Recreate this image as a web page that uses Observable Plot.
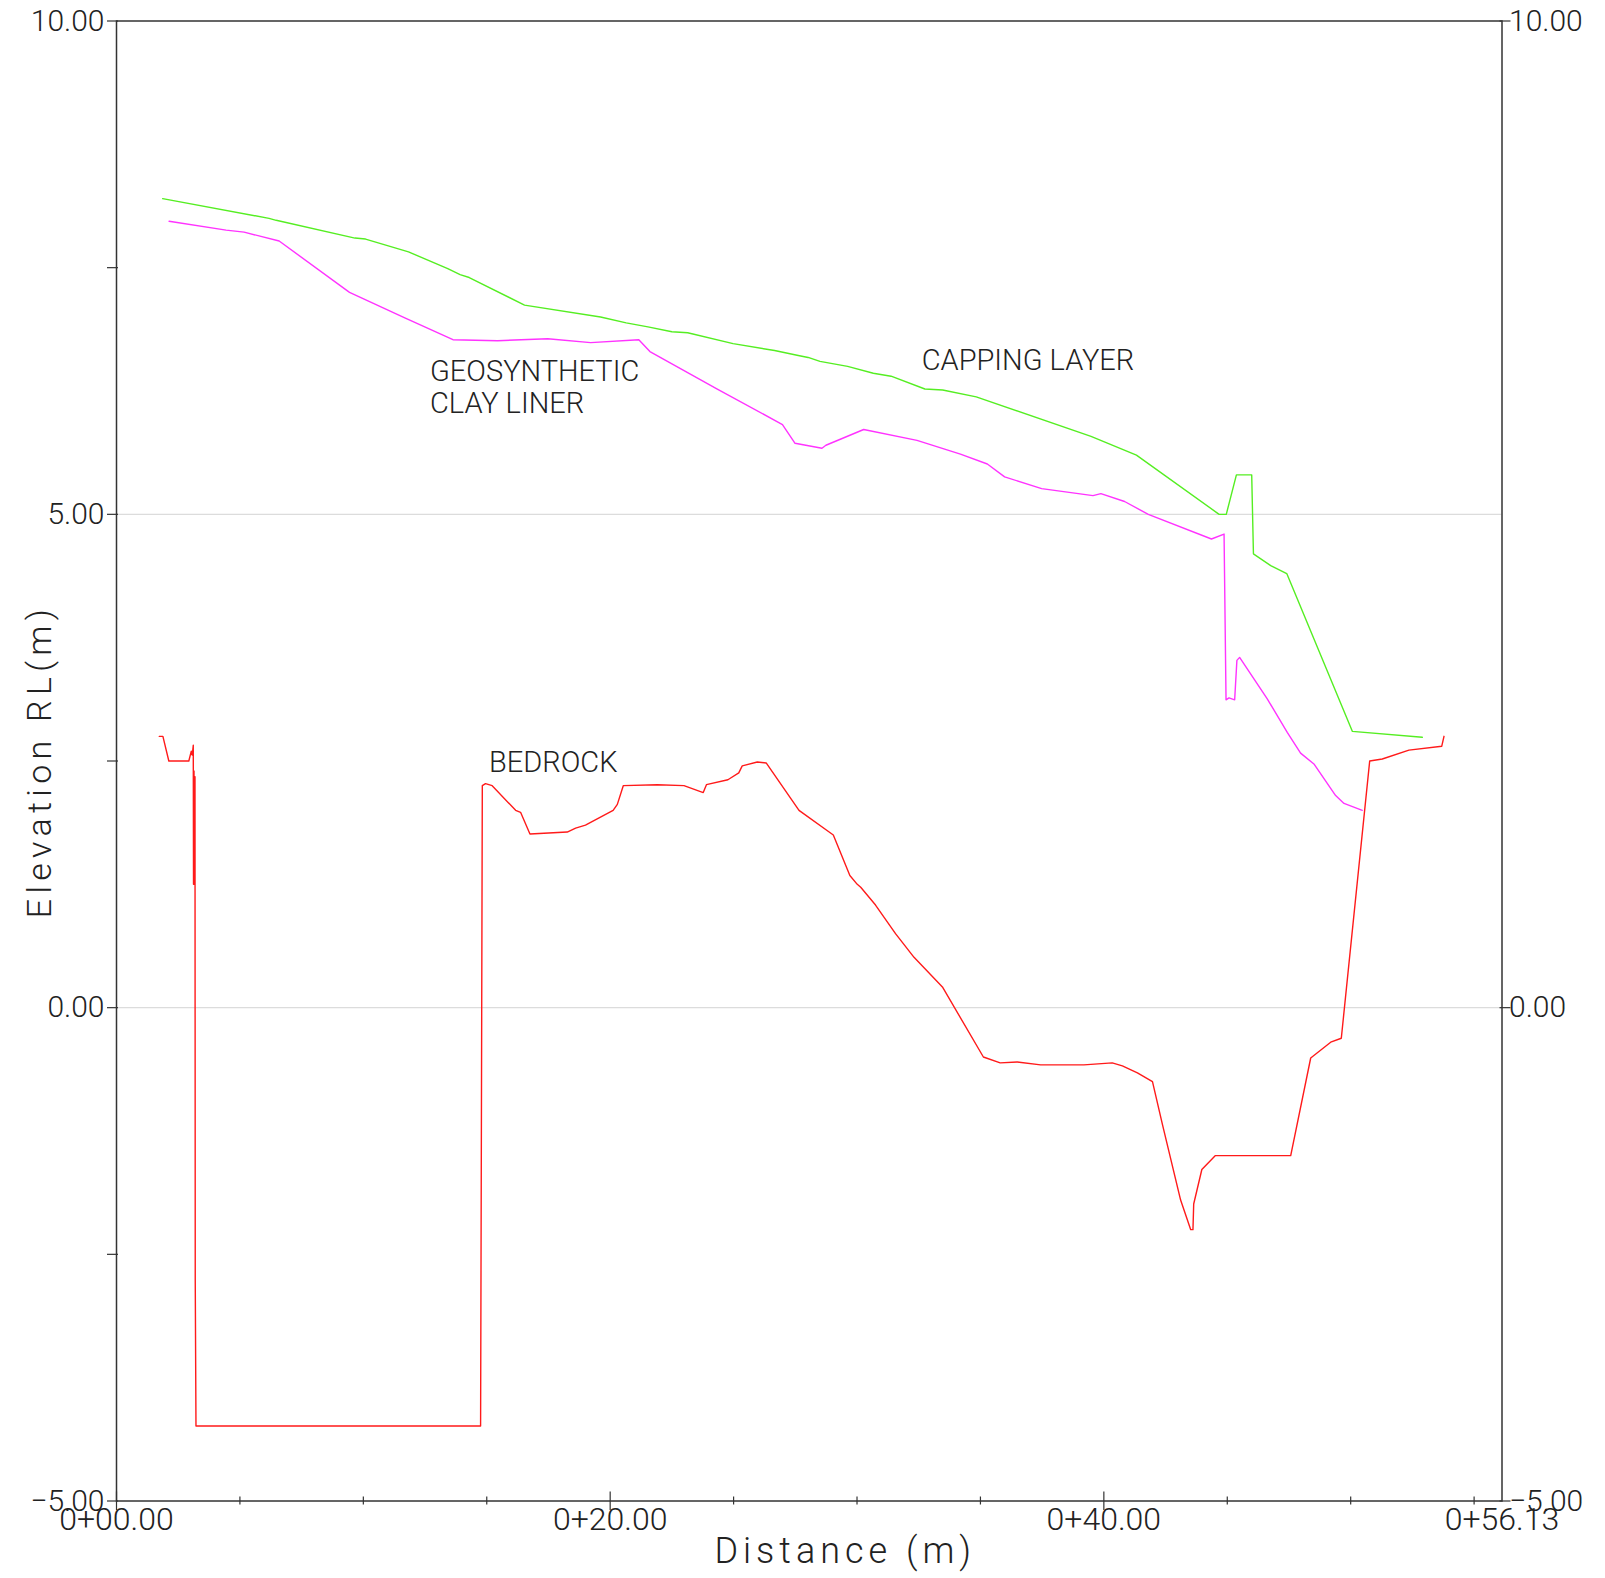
<!DOCTYPE html>
<html>
<head>
<meta charset="utf-8">
<script src="https://cdn.jsdelivr.net/npm/d3@7"></script>
<script src="https://cdn.jsdelivr.net/npm/@observablehq/plot@0.6"></script>
<style>
  html, body { margin: 0; padding: 0; background: #fff; }
  #chart svg { display: block; }
  .ytitle text { letter-spacing: 5.3px; }
  .xtitle text { letter-spacing: 5px; }
</style>
</head>
<body>
<div id="chart"></div>
<script>
// ---- Data ----
const cappingX = [1.87, 6.18, 6.47, 9.66, 10.09, 11.83, 13.42, 13.92, 14.29, 16.53, 19.61, 20.65, 21.53, 22.50, 23.14, 24.98, 26.66, 27.62, 28.02, 28.50, 29.62, 30.66, 31.38, 32.75, 33.47, 34.83, 39.48, 41.32, 44.67, 44.96, 45.37, 45.99, 46.06, 46.76, 47.41, 50.07, 52.90];
const cappingY = [8.20, 8.00, 7.98, 7.80, 7.79, 7.66, 7.49, 7.43, 7.40, 7.12, 7.00, 6.94, 6.90, 6.85, 6.84, 6.73, 6.66, 6.61, 6.59, 6.55, 6.50, 6.43, 6.40, 6.27, 6.26, 6.19, 5.79, 5.60, 5.00, 5.00, 5.40, 5.40, 4.60, 4.48, 4.40, 2.80, 2.74];

const gclX = [2.13, 4.44, 5.17, 6.59, 9.44, 11.68, 13.63, 15.44, 17.47, 19.21, 21.16, 21.61, 24.34, 26.98, 27.49, 28.58, 28.74, 30.27, 32.43, 34.19, 35.28, 35.98, 37.48, 39.56, 39.88, 40.84, 41.80, 44.36, 44.87, 44.95, 45.07, 45.30, 45.39, 45.50, 46.62, 47.43, 47.97, 48.51, 49.39, 49.73, 50.47];
const gclY = [7.97, 7.88, 7.86, 7.77, 7.25, 6.99, 6.77, 6.76, 6.78, 6.74, 6.77, 6.65, 6.27, 5.91, 5.72, 5.67, 5.70, 5.86, 5.75, 5.61, 5.51, 5.38, 5.26, 5.19, 5.21, 5.13, 5.00, 4.75, 4.80, 3.12, 3.14, 3.12, 3.52, 3.55, 3.13, 2.79, 2.58, 2.47, 2.15, 2.07, 2.00];

const bedrockX = [1.73, 1.88, 2.12, 2.93, 3.03, 3.07, 3.11, 3.12, 3.14, 3.16, 3.18, 3.19, 3.22, 14.75, 14.82, 14.95, 15.22, 16.17, 16.37, 16.75, 18.26, 18.60, 19.00, 20.12, 20.29, 20.53, 21.91, 22.99, 23.77, 23.90, 24.77, 25.21, 25.35, 25.96, 26.32, 27.65, 29.04, 29.71, 30.01, 30.15, 30.75, 31.56, 32.31, 33.46, 35.12, 35.80, 36.49, 37.44, 39.19, 40.34, 40.75, 41.36, 41.97, 42.37, 43.11, 43.52, 43.61, 43.64, 43.97, 44.51, 47.57, 48.38, 49.19, 49.62, 50.77, 51.28, 52.36, 53.69, 53.78];
const bedrockY = [2.75, 2.75, 2.50, 2.50, 2.60, 2.56, 2.66, 1.25, 2.40, 1.25, 2.34, -2.75, -4.24, -4.24, 2.25, 2.27, 2.25, 2.00, 1.98, 1.76, 1.78, 1.82, 1.85, 2.00, 2.06, 2.25, 2.26, 2.25, 2.18, 2.26, 2.31, 2.38, 2.45, 2.49, 2.48, 2.00, 1.75, 1.34, 1.25, 1.22, 1.04, 0.75, 0.51, 0.21, -0.50, -0.56, -0.55, -0.58, -0.58, -0.56, -0.59, -0.66, -0.75, -1.18, -1.95, -2.25, -2.25, -1.99, -1.64, -1.50, -1.50, -0.51, -0.35, -0.31, 2.50, 2.52, 2.61, 2.65, 2.75];

// Labels placed in the plot
const labelTexts = ["GEOSYNTHETIC\nCLAY LINER", "CAPPING LAYER", "BEDROCK"];
const labelX = [12.70, 32.62, 15.09];
const labelY = [6.03, 6.465, 2.39];

// Axes
const xDomain = [0, 56.13];
const yDomain = [-5, 10];
const xLabelTicks = [0, 20, 40, 56.13];
const xMajorTicks = [0, 20, 40];
const xMinorTicks = [5, 10, 15, 25, 30, 35, 45, 50, 55];
const yLeftLabels = [10, 5, 0, -5];
const yLeftTicks = [10, 7.5, 5, 2.5, 0, -2.5, -5];
const yRightLabels = [10, 0, -5];
const gridLines = [5, 0];

const xTitle = "Distance (m)";
const yTitle = "Elevation RL(m)";

// ---- Build ----
const seriesRows = (xs, ys) => xs.map((x, i) => ({x, y: ys[i]}));
const capping = seriesRows(cappingX, cappingY);
const gcl = seriesRows(gclX, gclY);
const bedrock = seriesRows(bedrockX, bedrockY);
const labels = labelTexts.map((t, i) => ({t, x: labelX[i], y: labelY[i]}));

const fmtDist = d => "0+" + d3.format("05.2f")(d);
const fmtElev = d3.format(".2f");

const FONT = "Roboto, 'DejaVu Sans', sans-serif";
const INK = "#222";
const AXIS = "#333";

const chart = Plot.plot({
  width: 1605,
  height: 1578,
  marginLeft: 116,
  marginRight: 103.5,
  marginTop: 20.5,
  marginBottom: 77.5,
  x: {domain: xDomain, axis: null},
  y: {domain: yDomain, axis: null},
  style: {fontFamily: FONT, fontWeight: 300, background: "#fff", color: INK},
  marks: [
    Plot.ruleY(gridLines, {stroke: "#dcdcdc", strokeWidth: 1.3}),
    Plot.frame({stroke: AXIS, strokeWidth: 1.5}),
    // x ticks
    Plot.ruleX(xMinorTicks, {x: d => d, y1: -5, y2: -5, insetTop: -4, insetBottom: -4, stroke: AXIS, strokeWidth: 1.2}),
    Plot.ruleX(xMajorTicks, {x: d => d, y1: -5, y2: -5, insetTop: -9, insetBottom: -9.5, stroke: AXIS, strokeWidth: 1.2}),
    // y ticks
    Plot.ruleY(yLeftTicks, {y: d => d, x1: 0, x2: 0, insetLeft: -9, insetRight: -2, stroke: AXIS, strokeWidth: 1.2}),
    Plot.ruleY(yRightLabels, {y: d => d, x1: 56.13, x2: 56.13, insetLeft: -2, insetRight: -9, stroke: AXIS, strokeWidth: 1.2}),
    // series
    Plot.line(bedrock, {x: "x", y: "y", stroke: "#ff1a1a", strokeWidth: 1.4}),
    Plot.line(gcl, {x: "x", y: "y", stroke: "#ff33ff", strokeWidth: 1.4}),
    Plot.line(capping, {x: "x", y: "y", stroke: "#55ee22", strokeWidth: 1.4}),
    // tick labels
    Plot.text(yLeftLabels, {x: 0, y: d => d, text: fmtElev, textAnchor: "end", dx: -12, fontSize: 30, fill: INK}),
    Plot.text(yRightLabels, {x: 56.13, y: d => d, text: fmtElev, textAnchor: "start", dx: 7, fontSize: 30, fill: INK}),
    Plot.text(xLabelTicks, {x: d => d, y: -5, text: fmtDist, lineAnchor: "middle", dy: 19, fontSize: 32, fill: INK}),
    // annotations
    Plot.text(labels, {x: "x", y: "y", text: "t", textAnchor: "start", lineAnchor: "bottom", lineHeight: 1.08, fontSize: 29, fill: INK}),
    // axis titles
    Plot.text([yTitle], {frameAnchor: "left", textAnchor: "middle", dx: -76, rotate: -90, fontSize: 34, fill: INK, className: "ytitle"}),
    Plot.text([xTitle], {frameAnchor: "bottom", textAnchor: "middle", dx: 36, dy: 62, fontSize: 36, fill: INK, className: "xtitle"})
  ]
});
document.getElementById("chart").appendChild(chart);
</script>
</body>
</html>
